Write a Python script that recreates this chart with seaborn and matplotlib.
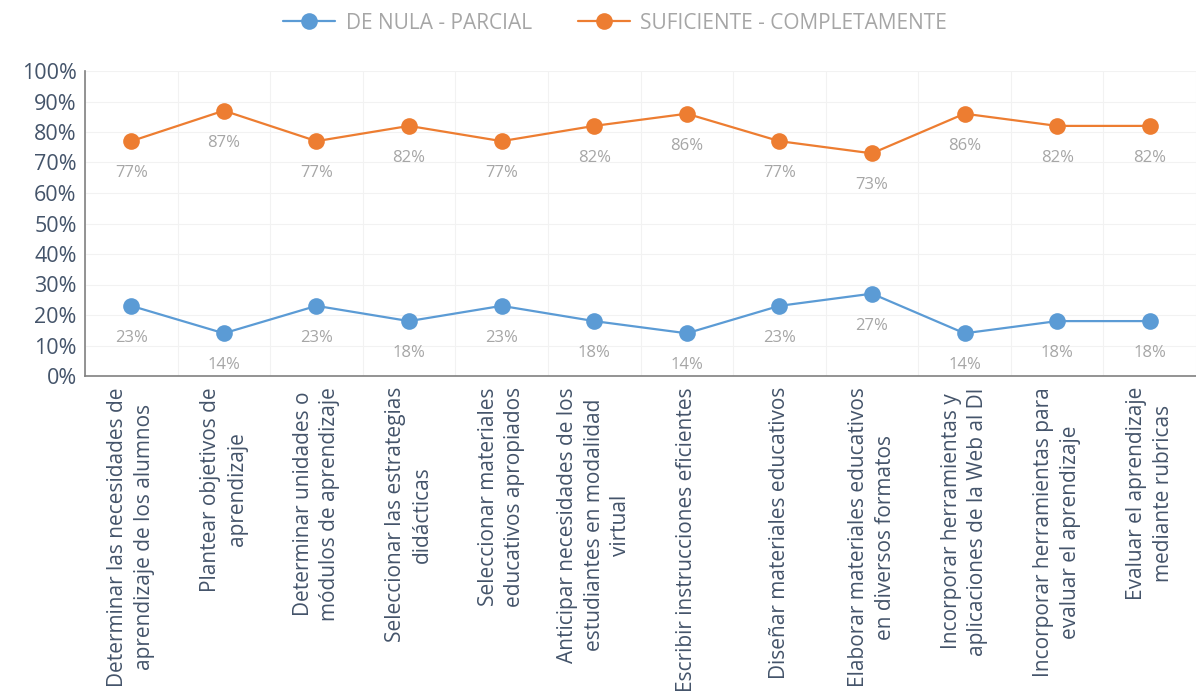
import seaborn as sns
import pandas as pd
import numpy as np
from matplotlib import pyplot as plt

categorias = [
    'Determinar las necesidades de\naprendizaje de los alumnos',
    'Plantear objetivos de\naprendizaje',
    'Determinar unidades o\nmódulos de aprendizaje',
    'Seleccionar las estrategias\ndidácticas',
    'Seleccionar materiales\neducativos apropiados',
    'Anticipar necesidades de los\nestudiantes en modalidad\nvirtual',
    'Escribir instrucciones eficientes',
    'Diseñar materiales educativos',
    'Elaborar materiales educativos\nen diversos formatos',
    'Incorporar herramientas y\naplicaciones de la Web al DI',
    'Incorporar herramientas para\nevaluar el aprendizaje',
    'Evaluar el aprendizaje\nmediante rubricas',
]
nula_parcial = [23, 14, 23, 18, 23, 18, 14, 23, 27, 14, 18, 18]
suficiente = [77, 87, 77, 82, 77, 82, 86, 77, 73, 86, 82, 82]
series = ['DE NULA - PARCIAL', 'SUFICIENTE - COMPLETAMENTE']
colores = ['#5B9BD5', '#ED7D31']

sns.set_theme(style='white')
plt.rcParams['font.family'] = ['Open Sans', 'DejaVu Sans']

df = pd.concat([
    pd.DataFrame({'x': range(len(categorias)), 'valor': nula_parcial, 'serie': series[0]}),
    pd.DataFrame({'x': range(len(categorias)), 'valor': suficiente, 'serie': series[1]}),
])

fig = plt.figure(figsize=(11.96, 7), dpi=100)
ax = fig.add_axes([85 / 1196, 1 - 376 / 700, 1111 / 1196, 305 / 700])

ax = sns.lineplot(data=df, x='x', y='valor', hue='serie', palette=colores,
                  marker='o', markersize=12, markeredgewidth=0, linewidth=1.6,
                  ax=ax, legend=True)

for vals in [nula_parcial, suficiente]:
    for i, v in enumerate(vals):
        ax.annotate(f'{v}%', (i, v), xytext=(0, -23), textcoords='offset points',
                    ha='center', va='center', fontsize=12, color='#A6A6A6')

ax.set_xlim(-0.5, len(categorias) - 0.5)
ax.set_ylim(0, 100)
ax.set_yticks(np.arange(0, 101, 10))
ax.set_yticklabels([f'{t}%' for t in range(0, 101, 10)], fontsize=15.5, color='#44546A')
ax.set_xticks(range(len(categorias)))
ax.set_xticklabels(categorias, rotation=90, ha='center', va='top',
                   multialignment='center', linespacing=1.35,
                   fontsize=15, color='#44546A')
ax.tick_params(axis='x', length=0, pad=8)
ax.tick_params(axis='y', length=0, pad=6)
ax.set_xlabel('')
ax.set_ylabel('')

ax.set_xticks(np.arange(-0.5, len(categorias), 1), minor=True)
ax.tick_params(axis='x', which='minor', length=5, color='#BFBFBF', direction='out')
ax.grid(True, axis='y', color='#F2F2F2', linewidth=0.8)
ax.grid(True, axis='x', which='minor', color='#F2F2F2', linewidth=0.8)
ax.set_axisbelow(True)

for s in ['top', 'right']:
    ax.spines[s].set_visible(False)
ax.spines['left'].set_color('#808080')
ax.spines['bottom'].set_color('#808080')
ax.spines['left'].set_linewidth(1.2)
ax.spines['bottom'].set_linewidth(1.2)

handles, labels = ax.get_legend_handles_labels()
ax.legend(handles, labels, loc='upper center', bbox_to_anchor=(615 / 1196, 1 + 6 / 700),
          bbox_transform=fig.transFigure, ncol=2, frameon=False, fontsize=15,
          labelcolor='#A6A6A6', columnspacing=2.2, handlelength=2.5, handletextpad=0.5)

fig.savefig('out.png', dpi=100)
